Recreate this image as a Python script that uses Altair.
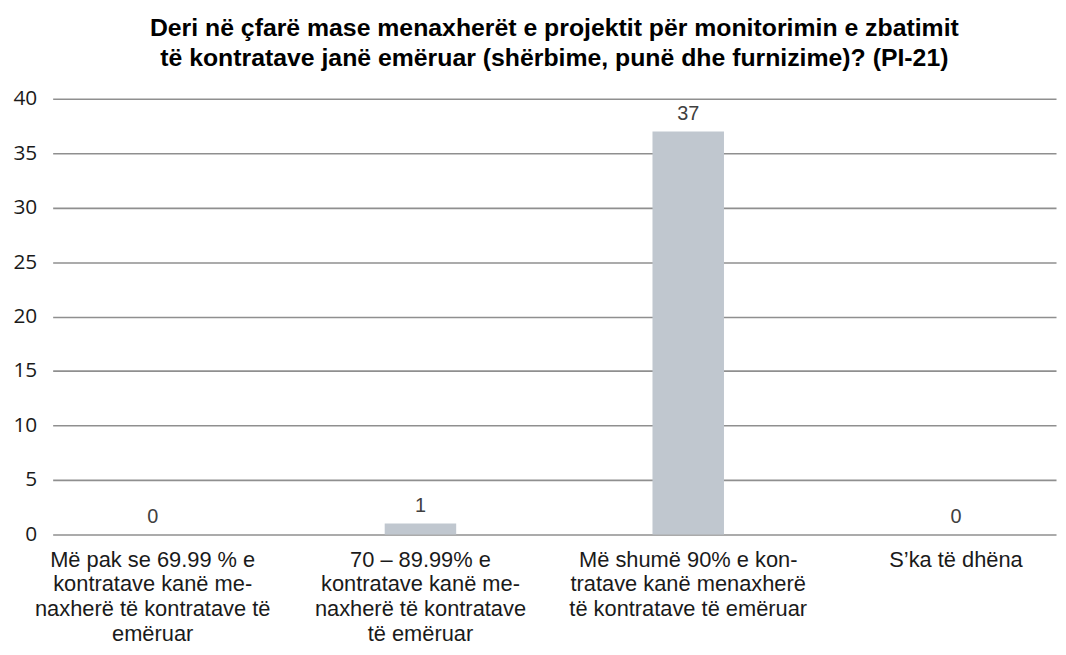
import altair as alt
import pandas as pd

categories = [
    "Më pak se 69.99 % e|kontratave kanë  me-|naxherë të kontratave të|emëruar",
    "70 – 89.99% e|kontratave kanë me-|naxherë të kontratave|të emëruar",
    "Më shumë 90% e kon-|tratave kanë menaxherë|të kontratave të emëruar",
    "S’ka të dhëna",
]
values = [0, 1, 37, 0]
y_ticks = [0, 5, 10, 15, 20, 25, 30, 35, 40]
title_lines = [
    "Deri në çfarë mase menaxherët e projektit për monitorimin e zbatimit",
    "të kontratave janë emëruar (shërbime, punë dhe furnizime)? (PI-21)",
]

df = pd.DataFrame({"cat": categories, "val": values})

x = alt.X(
    "cat:N",
    sort=categories,
    scale=alt.Scale(paddingInner=0.733, paddingOuter=0.24),
    axis=alt.Axis(
        title=None,
        labelAngle=0,
        labelExpr="split(datum.label, '|')",
        labelFont="Liberation Sans",
        labelFontSize=22,
        labelColor="#1a1a1a",
        labelLineHeight=25,
        labelPadding=15,
        labelBaseline="top",
        ticks=False,
        domain=False,
        grid=False,
        labelLimit=300,
    ),
)
y = alt.Y(
    "val:Q",
    scale=alt.Scale(domain=[0, 40], nice=False),
    axis=alt.Axis(
        title=None,
        values=y_ticks,
        labelFont="Open Sans",
        labelFontSize=21,
        labelColor="#1a1a1a",
        labelPadding=16,
        ticks=False,
        domain=False,
        grid=True,
        gridColor="#8f8f8f",
        gridWidth=1.6,
    ),
)

bars = alt.Chart(df).mark_bar(color="#c0c7cf").encode(x=x, y=y)
labels = alt.Chart(df).mark_text(
    baseline="bottom", dy=-8, font="Liberation Sans", fontSize=20, color="#404040"
).encode(x=alt.X("cat:N", sort=categories), y="val:Q", text="val:Q")

chart = (
    alt.layer(bars, labels)
    .properties(
        width=1011,
        height=439,
        autosize=alt.AutoSizeParams(type="none"),
        padding={"left": 45, "top": 89, "right": 2, "bottom": 111},
        title=alt.TitleParams(
            text=title_lines,
            font="Liberation Sans",
            fontSize=25,
            fontWeight="bold",
            color="#000000",
            anchor="middle",
            lineHeight=30,
            offset=17,
        ),
    )
    .configure_view(stroke=None)
)

chart.save("out.html", embed_options={"renderer": "svg", "actions": False})
